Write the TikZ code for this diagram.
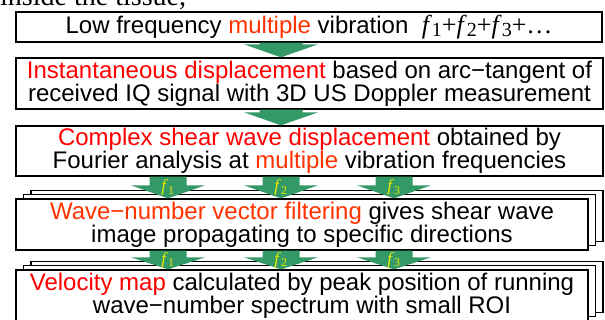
\documentclass[tikz,border=0pt]{standalone}
\usepackage{fontspec}
\setmainfont{Liberation Sans}
\newfontfamily\timesfont{Liberation Serif}
\usetikzlibrary{calc,shadows}

\definecolor{hlred}{RGB}{255,0,0}
\definecolor{hlorange}{RGB}{255,51,0}
\definecolor{arrowgreen}{RGB}{51,153,102}
\definecolor{labelyellow}{RGB}{235,235,0}

% block arrow from the bottom of #1 to the top of #2, centred at x=#3
\newcommand{\fatarrow}[5]{%
  \fill[arrowgreen] let \p1=(#1.south), \p2=(#2.north) in
    (#3-#4,\y1) -- (#3+#4,\y1) -- (#3+#4,\y2+#5) -- (#3+37,\y2+#5)
    -- (#3,\y2) -- (#3-37,\y2+#5) -- (#3-#4,\y2+#5) -- cycle;}
\newcommand{\freq}[1]{\textit{f}\raisebox{-0.3ex}{\fontsize{20}{20}\selectfont #1}}

\begin{document}
\begin{tikzpicture}[x=1pt,y=1pt,
  stepbox/.style={draw=black, line width=1.3pt, fill=white, align=center,
    inner sep=0pt, font=\fontsize{24}{22}\selectfont, minimum width=587pt},
  stackbox/.style={stepbox, minimum width=572pt, minimum height=51pt,
    copy shadow={shadow xshift=15pt, shadow yshift=8.6pt},
    copy shadow={shadow xshift=7.5pt, shadow yshift=4.3pt}},
  flabel/.style={text=labelyellow, inner sep=0pt,
    font=\timesfont\fontsize{17}{17}\selectfont}]
\useasboundingbox (0,0) rectangle (605,320);

\node[anchor=base west, inner sep=0pt, font=\timesfont\fontsize{28}{28}\selectfont]
  (intro) at (0,314) {inside the tissue,};

\node[stepbox, minimum width=586pt, minimum height=30pt] (b1) at (309,293)
{Low frequency \textcolor{hlorange}{multiple} vibration\ \ {\timesfont\fontsize{26}{26}\selectfont\freq{1}+\freq{2}+\freq{3}+\dots}};

\node[stepbox, minimum height=51pt] (b2) at (309.5,236.5)
{\textcolor{hlred}{Instantaneous displacement} based on arc−tangent of\\
received IQ signal with 3D US Doppler measurement};

\node[stepbox, minimum height=50pt] (b3) at (309.5,169)
{\textcolor{hlred}{Complex shear wave displacement} obtained by\\
Fourier analysis at \textcolor{hlorange}{multiple} vibration frequencies};

\node[stackbox] (b4) at (302,95.5)
{\textcolor{hlorange}{Wave−number vector filtering} gives shear wave\\
image propagating to specific directions};

\node[stackbox] (b5) at (302,24.5)
{\textcolor{hlred}{Velocity map} calculated by peak position of running\\
wave−number spectrum with small ROI};

\fatarrow{b1}{b2}{281}{21.5}{13}
\fatarrow{b2}{b3}{281}{21.5}{13}

\coordinate (m34) at ($(b3.south)!.5!(b4.north)$);
\coordinate (m45) at ($(b4.south)!.5!(b5.north)$);
\foreach \xc/\i in {168/1,281/2,394/3}{
  \fatarrow{b3}{b4}{\xc}{18.5}{13}
  \node[flabel] (f\i a) at (\xc,0 |- m34) {\textit{f}\textsubscript{\i}};
  \fatarrow{b4}{b5}{\xc}{18.5}{12}
  \node[flabel] (f\i b) at (\xc,0 |- m45) {\textit{f}\textsubscript{\i}};
}
\end{tikzpicture}
\end{document}
